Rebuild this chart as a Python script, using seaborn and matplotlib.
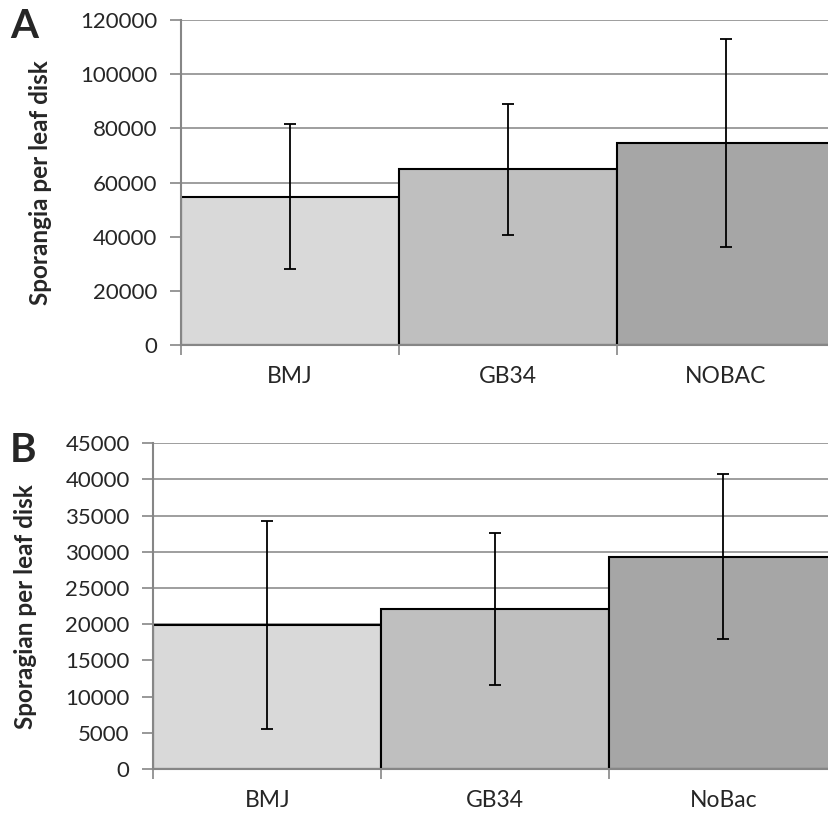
import matplotlib
matplotlib.use("Agg")
import matplotlib.pyplot as plt
import seaborn as sns
import pandas as pd
import numpy as np

# Panel A data
cats_a = ["BMJ", "GB34", "NOBAC"]
means_a = [54800, 64900, 74700]
errs_a = [26900, 24100, 38400]

# Panel B data
cats_b = ["BMJ", "GB34", "NoBac"]
means_b = [19900, 22100, 29300]
errs_b = [14400, 10500, 11400]

bar_colors = ["#D9D9D9", "#BFBFBF", "#A6A6A6"]
grid_color = "#969696"
axis_color = "#868686"

sns.set_theme(style="white")
plt.rcParams["font.family"] = ["Lato", "DejaVu Sans"]

fig = plt.figure(figsize=(8.29, 8.16), dpi=100)
ax_a = fig.add_axes([181 / 829, 1 - 345 / 816, 654 / 829, 325 / 816])
ax_b = fig.add_axes([153.3 / 829, 1 - 769 / 816, 684 / 829, 325.7 / 816])


def draw_panel(ax, cats, means, errs, ymax, step, ylabel, label_x):
    df = pd.DataFrame({"cat": cats, "val": means})
    ax.set_axisbelow(True)
    for y in np.arange(step, ymax + step / 2, step):
        ax.axhline(y, color=grid_color, lw=1.3, zorder=0)
    sns.barplot(data=df, x="cat", y="val", hue="cat", palette=bar_colors,
                width=1.0, edgecolor="black", linewidth=1.5, legend=False,
                errorbar=None, ax=ax, zorder=2)
    ax.errorbar(np.arange(len(cats)), means, yerr=errs, fmt="none",
                ecolor="black", elinewidth=1.3, capsize=4, capthick=1.3,
                zorder=3)
    ax.set_xlim(-0.5, len(cats) - 0.5)
    ax.set_ylim(0, ymax)
    yt = np.arange(0, ymax + step / 2, step)
    ax.set_yticks(yt)
    ax.set_yticklabels([f"{int(v)}" for v in yt])
    # boundary ticks between categories, labels centred on bars
    xb = np.arange(-0.5, len(cats), 1.0)
    ax.set_xticks(xb)
    ax.set_xticklabels([""] * len(xb))
    ax.set_xticks(np.arange(len(cats)), minor=True)
    ax.set_xticklabels(cats, minor=True)
    ax.tick_params(axis="x", which="major", direction="out", length=7,
                   width=1.2, color=axis_color, bottom=True)
    ax.tick_params(axis="x", which="minor", length=0, pad=15, labelsize=16.5)
    ax.tick_params(axis="y", direction="out", length=8, width=1.2,
                   color=axis_color, left=True, labelsize=16, pad=9)
    for side in ["top", "right"]:
        ax.spines[side].set_visible(False)
    for side in ["left", "bottom"]:
        ax.spines[side].set_visible(True)
        ax.spines[side].set_color(axis_color)
        ax.spines[side].set_linewidth(1.5)
    ax.set_xlabel("")
    ax.set_ylabel(ylabel, fontsize=17.5, fontweight="bold")
    ax.yaxis.set_label_coords(label_x, 0.5)


draw_panel(ax_a, cats_a, means_a, errs_a, 120000, 20000,
           "Sporangia per leaf disk", (52 - 181) / 654)
draw_panel(ax_b, cats_b, means_b, errs_b, 45000, 5000,
           "Sporagian per leaf disk", (37.5 - 153.3) / 684)

fig.text(10 / 829, 1 - 26 / 816, "A", fontsize=29, fontweight="bold",
         va="center", ha="left")
fig.text(10 / 829, 1 - 450 / 816, "B", fontsize=29, fontweight="bold",
         va="center", ha="left")

fig.savefig("out.png", dpi=100)
